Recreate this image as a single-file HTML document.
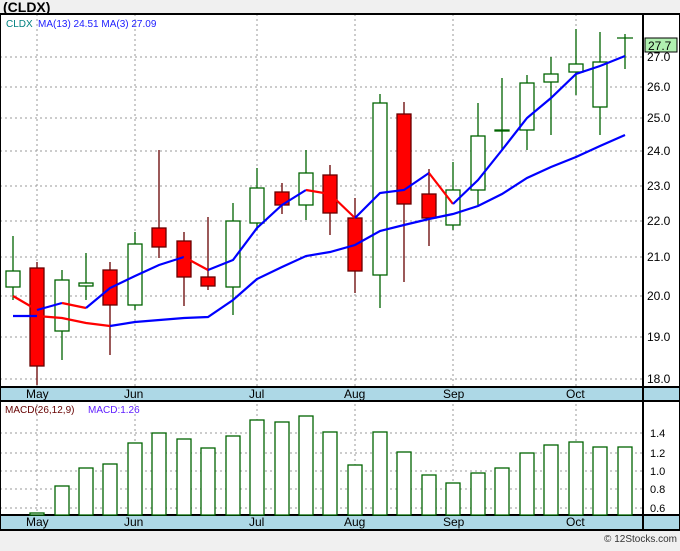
<!DOCTYPE html><html><head><style>body{margin:0;background:#f0f0f0;font-family:"Liberation Sans",sans-serif}</style></head><body>
<svg width="680" height="546" xmlns="http://www.w3.org/2000/svg" font-family="Liberation Sans, DejaVu Sans, sans-serif">
<rect width="680" height="546" fill="#f0f0f0"/>
<text x="3" y="12" font-size="14" font-weight="bold">(CLDX)</text>
<rect x="0" y="14" width="680" height="516" fill="#fff"/>
<g stroke="#999" stroke-dasharray="2,3" stroke-width="1">
<line x1="0" x2="643" y1="57" y2="57"/><line x1="0" x2="643" y1="87" y2="87"/><line x1="0" x2="643" y1="118" y2="118"/><line x1="0" x2="643" y1="151" y2="151"/><line x1="0" x2="643" y1="186" y2="186"/><line x1="0" x2="643" y1="221" y2="221"/><line x1="0" x2="643" y1="257" y2="257"/><line x1="0" x2="643" y1="296" y2="296"/><line x1="0" x2="643" y1="337" y2="337"/><line x1="0" x2="643" y1="379" y2="379"/>
<line x1="0" x2="643" y1="433" y2="433"/><line x1="0" x2="643" y1="453" y2="453"/><line x1="0" x2="643" y1="471" y2="471"/><line x1="0" x2="643" y1="489" y2="489"/><line x1="0" x2="643" y1="508" y2="508"/>
<g id="v"><line x1="37" x2="37" y1="14" y2="530"/><line x1="135" x2="135" y1="14" y2="530"/><line x1="257" x2="257" y1="14" y2="530"/><line x1="355" x2="355" y1="14" y2="530"/><line x1="453" x2="453" y1="14" y2="530"/><line x1="576" x2="576" y1="14" y2="530"/></g>
</g>
<rect x="0" y="387" width="680" height="14" fill="#add8e6"/>
<rect x="0" y="515" width="680" height="15" fill="#add8e6"/>
<g stroke="#000" stroke-width="2" fill="none"><rect x="0" y="14" width="680" height="516"/><line x1="643" x2="643" y1="14" y2="530"/><line x1="0" x2="680" y1="387" y2="387"/><line x1="0" x2="680" y1="401" y2="401"/><line x1="0" x2="680" y1="515" y2="515"/></g>
<g font-size="12" fill="#000">
<text x="26" y="398">May</text><text x="124" y="398">Jun</text><text x="249" y="398">Jul</text><text x="344" y="398">Aug</text><text x="443" y="398">Sep</text><text x="566" y="398">Oct</text>
<text x="26" y="526">May</text><text x="124" y="526">Jun</text><text x="249" y="526">Jul</text><text x="344" y="526">Aug</text><text x="443" y="526">Sep</text><text x="566" y="526">Oct</text>
<text x="647" y="61">27.0</text><text x="647" y="91">26.0</text><text x="647" y="122">25.0</text><text x="647" y="155">24.0</text><text x="647" y="190">23.0</text><text x="647" y="225">22.0</text><text x="647" y="261">21.0</text><text x="647" y="300">20.0</text><text x="647" y="341">19.0</text><text x="647" y="383">18.0</text>
<text x="650" y="437" font-size="11">1.4</text><text x="650" y="457" font-size="11">1.2</text><text x="650" y="475" font-size="11">1.0</text><text x="650" y="493" font-size="11">0.8</text><text x="650" y="512" font-size="11">0.6</text>
</g>
<rect x="645" y="38" width="32" height="14" fill="#b0f0b0" stroke="#000"/><text x="648" y="50" font-size="12">27.7</text>
<text x="6" y="27" font-size="10" fill="#008080">CLDX</text><text x="38" y="27" font-size="10" fill="#2020ff">MA(13)  24.51  MA(3)  27.09</text>
<text x="5" y="413" font-size="10" fill="#600">MACD(26,12,9)</text><text x="88" y="413" font-size="10" fill="#6020ff">MACD:1.26</text>
<g stroke="#006400" stroke-width="1.3" fill="#fff">
<path d="M13 236V300M62 270V360M86 253V300M135 232V310M233 203V315M257 168V230M306 150V220M380 94V308M453 162V230M478 103V205M502 78V150M527 75V150M551 57V135M576 29V95M600 32V135M625 34V69M617 38H633"/>
<rect x="6" y="271" width="14" height="16"/><rect x="55" y="280" width="14" height="51"/><rect x="79" y="283" width="14" height="3"/><rect x="128" y="244" width="14" height="61"/><rect x="226" y="221" width="14" height="66"/><rect x="250" y="188" width="14" height="35"/><rect x="299" y="173" width="14" height="32"/><rect x="373" y="103" width="14" height="172"/><rect x="446" y="190" width="14" height="35"/><rect x="471" y="136" width="14" height="54"/><rect x="495" y="130" width="14" height="1"/><rect x="520" y="83" width="14" height="47"/><rect x="544" y="74" width="14" height="8"/><rect x="569" y="64" width="14" height="8"/><rect x="593" y="62" width="14" height="45"/>
</g>
<g stroke="#600" stroke-width="1.3" fill="#f00">
<path d="M37 262V385M110 262V355M159 150V258M184 232V306M208 217V290M282 183V214M330 165V235M355 198V293M404 102V282M429 169V246"/>
<rect x="30" y="268" width="14" height="98"/><rect x="103" y="270" width="14" height="35"/><rect x="152" y="228" width="14" height="19"/><rect x="177" y="241" width="14" height="36"/><rect x="201" y="277" width="14" height="9"/><rect x="275" y="192" width="14" height="13"/><rect x="323" y="175" width="14" height="38"/><rect x="348" y="218" width="14" height="53"/><rect x="397" y="114" width="14" height="90"/><rect x="422" y="194" width="14" height="24"/>
</g>
<g fill="none" stroke-width="2.2">
<polyline stroke="#00f" points="110,326 135,322 184,318 208,317 233,300 257,279 282,267 306,256 330,252 355,245 380,231 404,225 429,219 453,214 478,206 502,194 527,178 551,167 576,157 600,146 625,135"/>
<polyline stroke="#00f" points="13,316 37,316"/>
<polyline stroke="#f00" points="37,316 62,318 86,323 110,326"/>
<polyline stroke="#f00" points="13,296 37,310"/>
<polyline stroke="#00f" points="37,310 62,303"/>
<polyline stroke="#f00" points="62,303 86,308"/>
<polyline stroke="#00f" points="86,308 110,288 135,276 159,265 184,257"/>
<polyline stroke="#f00" points="184,257 208,270"/>
<polyline stroke="#00f" points="208,270 233,260 257,228 282,205 306,190"/>
<polyline stroke="#f00" points="306,190 330,194 355,218"/>
<polyline stroke="#00f" points="355,218 380,193 404,190 429,173"/>
<polyline stroke="#f00" points="429,173 453,204"/>
<polyline stroke="#00f" points="453,204 478,180 502,150 527,118 551,98 576,74 600,66 625,56"/>
</g>
<g stroke="#006400" stroke-width="1.3" fill="#fff">
<rect x="30" y="513" width="14" height="2"/><rect x="55" y="486" width="14" height="29"/><rect x="79" y="468" width="14" height="47"/><rect x="103" y="464" width="14" height="51"/><rect x="128" y="443" width="14" height="72"/><rect x="152" y="433" width="14" height="82"/><rect x="177" y="439" width="14" height="76"/><rect x="201" y="448" width="14" height="67"/><rect x="226" y="436" width="14" height="79"/><rect x="250" y="420" width="14" height="95"/><rect x="275" y="422" width="14" height="93"/><rect x="299" y="416" width="14" height="99"/><rect x="323" y="432" width="14" height="83"/><rect x="348" y="465" width="14" height="50"/><rect x="373" y="432" width="14" height="83"/><rect x="397" y="452" width="14" height="63"/><rect x="422" y="475" width="14" height="40"/><rect x="446" y="483" width="14" height="32"/><rect x="471" y="473" width="14" height="42"/><rect x="495" y="468" width="14" height="47"/><rect x="520" y="453" width="14" height="62"/><rect x="544" y="445" width="14" height="70"/><rect x="569" y="442" width="14" height="73"/><rect x="593" y="447" width="14" height="68"/><rect x="618" y="447" width="14" height="68"/>
</g>
<text x="677" y="542" font-size="10" text-anchor="end" fill="#333">© 12Stocks.com</text>
</svg></body></html>
